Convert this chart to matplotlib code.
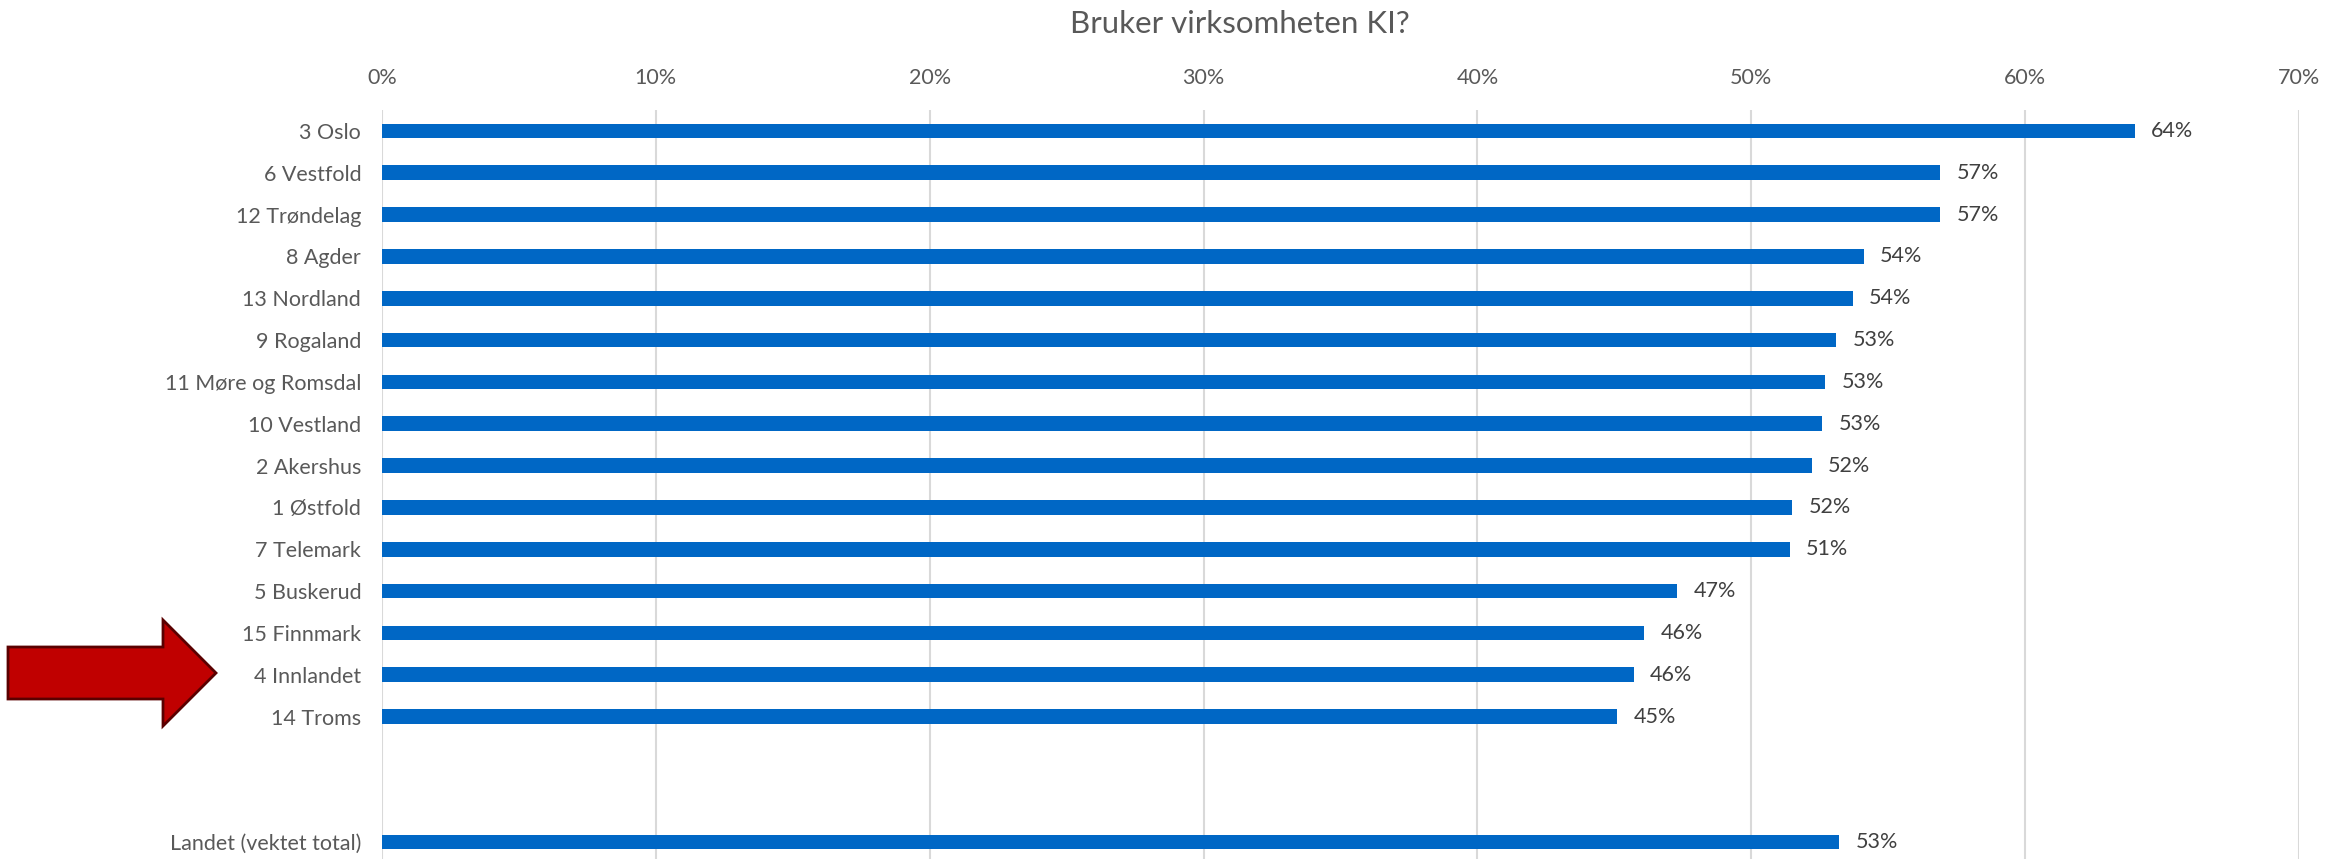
import matplotlib
matplotlib.use("Agg")
import matplotlib.pyplot as plt
from matplotlib.patches import Polygon
from matplotlib.ticker import FuncFormatter

plt.rcParams['font.family'] = ['Lato', 'DejaVu Sans']

# data, top to bottom; the two blank rows are the gap before the national total
fylker = ["3 Oslo", "6 Vestfold", "12 Trøndelag", "8 Agder", "13 Nordland",
          "9 Rogaland", "11 Møre og Romsdal", "10 Vestland", "2 Akershus",
          "1 Østfold", "7 Telemark", "5 Buskerud", "15 Finnmark",
          "4 Innlandet", "14 Troms", "", "", "Landet (vektet total)"]
andel = [0.640, 0.569, 0.569, 0.541, 0.537, 0.531, 0.527, 0.526, 0.522,
         0.515, 0.514, 0.473, 0.461, 0.457, 0.451, None, None, 0.532]
x_ticks = [0, 0.1, 0.2, 0.3, 0.4, 0.5, 0.6, 0.7]

BLUE = '#0067C5'
GRID = '#D9D9D9'
TXT = '#595959'

W, H = 2346, 859
fig = plt.figure(figsize=(W / 100, H / 100), dpi=100)
# axes box in pixels: left 382, right 2299, top 110, bottom ~863 (cut off by the image)
ax = fig.add_axes([382 / W, 1 - 863 / H, (2299 - 382) / W, (863 - 110) / H])

pos = list(range(len(fylker)))
for i, v in zip(pos, andel):
    if v is None:
        continue
    ax.barh(i, v, height=0.35, color=BLUE)
    ax.text(v + 0.006, i, "{:.0f}%".format(v * 100), va='center', ha='left',
            fontsize=15.5, color='#404040')

ax.set_ylim(len(fylker) - 0.5, -0.5)
ax.set_yticks(pos)
ax.set_yticklabels(fylker)
ax.set_xlim(0, 0.7)
ax.set_xticks(x_ticks)
ax.xaxis.set_major_formatter(FuncFormatter(lambda x, p: "{:.0f}%".format(x * 100)))
ax.xaxis.tick_top()
ax.tick_params(axis='x', length=0, pad=16, labelsize=15.5, labelcolor=TXT)
ax.tick_params(axis='y', length=0, pad=15, labelsize=15.5, labelcolor=TXT)
ax.grid(axis='x', color=GRID, linewidth=1.5)
ax.set_axisbelow(True)
for s in ax.spines.values():
    s.set_visible(False)

fig.text(1240 / W, 1 - 24 / H, "Bruker virksomheten KI?", ha='center', va='center',
         fontsize=22.5, color=TXT)

# red arrow pointing at Innlandet
arrow_px = [(8, 647), (163, 647), (163, 620), (216, 673), (163, 726), (163, 699), (8, 699)]
arrow = Polygon([(x / W, 1 - y / H) for x, y in arrow_px], closed=True,
                transform=fig.transFigure, facecolor='#C00000', edgecolor='#5A0000',
                linewidth=2)
fig.patches.append(arrow)

fig.savefig("out.png", dpi=100)
